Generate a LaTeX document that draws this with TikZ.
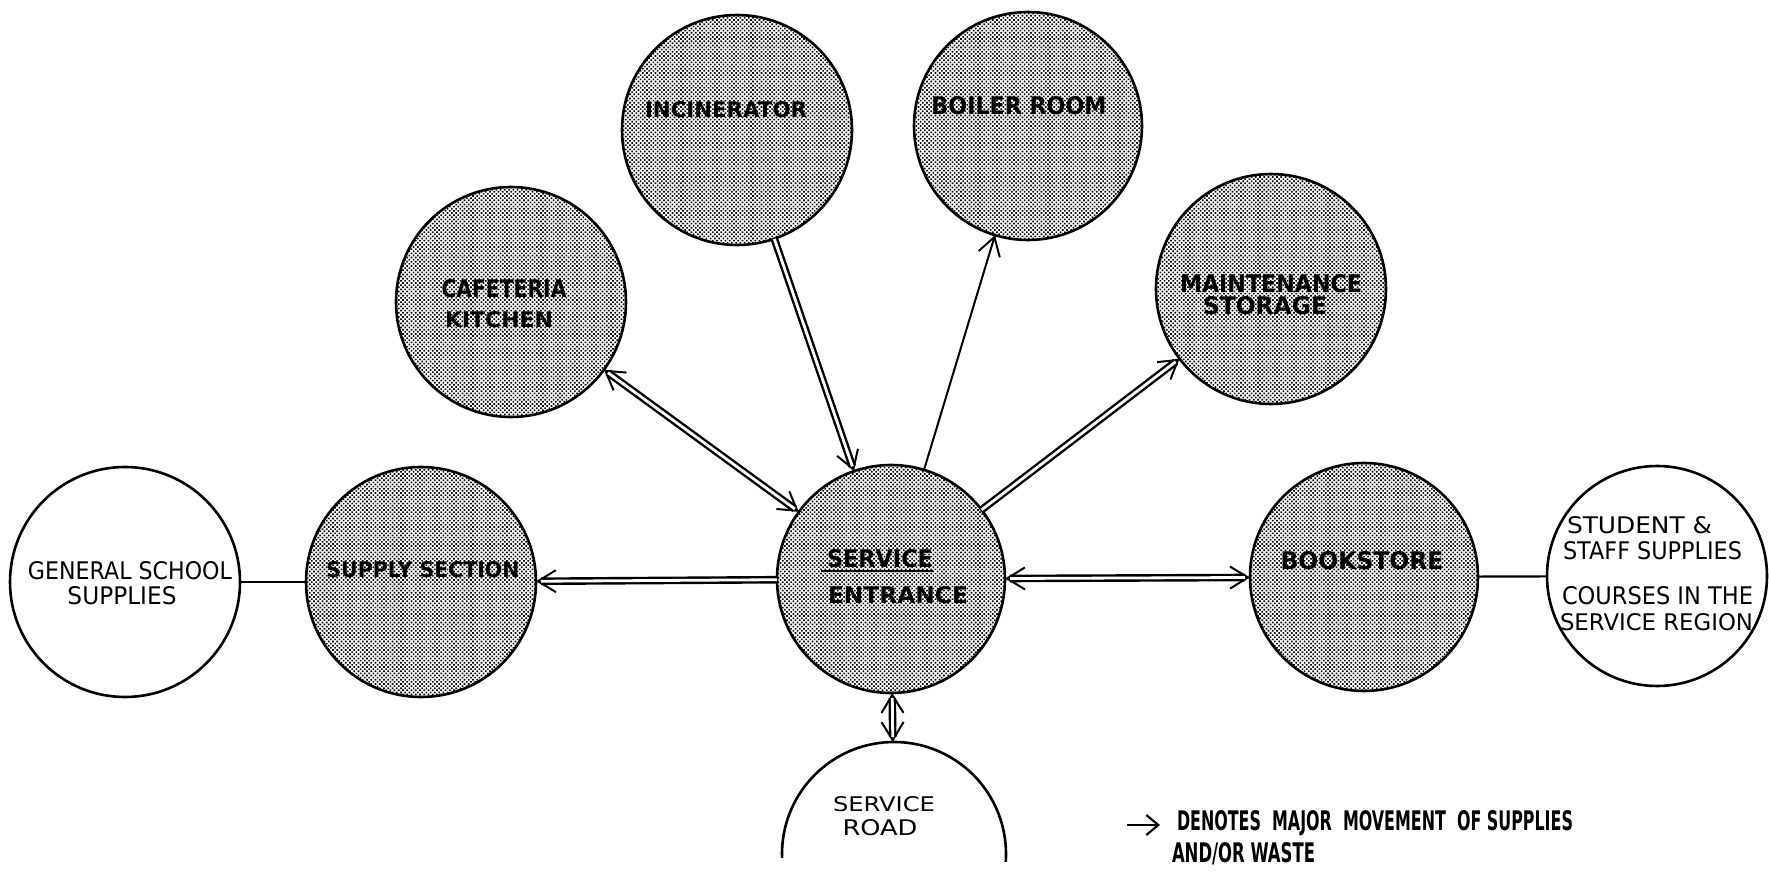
\documentclass[tikz,border=0pt]{standalone}
\usepackage{fontspec}
\usepackage{graphicx}
\setmainfont{DejaVu Sans}
\usetikzlibrary{arrows.meta,patterns.meta}

% lettering box: width, cap height, text
\newcommand\lab[3]{\resizebox{#1}{#2}{#3}}

\begin{document}
\begin{tikzpicture}[x=0.5pt,y=-0.5pt,
  room/.style={circle, draw, line width=1.3pt, inner sep=0pt, outer sep=0pt, minimum size=#1},
  screen/.style={pattern={Dots[distance=1.5pt, radius=0.58pt, angle=45]}},
  lbl/.style={inner sep=0pt, outer sep=0pt},
  dark/.style={lbl, font=\bfseries},
  barb/.tip={Straight Barb[length=9pt, width=11pt, line width=1pt]},
  tipline/.style={line width=1pt},
  rails/.style={double=white, double distance=1.4pt, line width=1.2pt},
  link/.style={line width=1.1pt}
]
\path[fill=white] (0,0) rectangle (1769,877);
\useasboundingbox (0,0) rectangle (1769,877);

% rooms
\node[room=115pt] (gen) at (125,582) {};
\node[room=115pt, screen] (sup) at (421,582) {};
\node[room=115pt, screen] (caf) at (511,302) {};
\node[room=115pt, screen] (inc) at (737,130) {};
\node[room=114pt, screen] (boil) at (1028,126) {};
\node[room=115pt, screen] (maint) at (1271,289) {};
\node[room=114pt, screen] (se) at (891,579) {};
\node[room=114pt, screen] (book) at (1364,577) {};
\node[room=110pt] (stud) at (1657,576) {};
\node[circle, inner sep=0pt, outer sep=0pt, minimum size=112pt] (road) at (894,854) {};
\draw[line width=1.3pt] (road.182) arc[start angle=182, end angle=-4, radius=56pt];

% labels
\node[lbl] (gen1) at (130,571) {\lab{102pt}{9pt}{GENERAL SCHOOL}};
\node[lbl] (gen2) at (122,596) {\lab{54.5pt}{9pt}{SUPPLIES}};
\node[dark] (sup1) at (423,570) {\lab{96.5pt}{8pt}{SUPPLY SECTION}};
\node[dark] (caf1) at (504,289) {\lab{62.5pt}{9pt}{CAFETERIA}};
\node[dark] (caf2) at (499,320) {\lab{54pt}{8pt}{KITCHEN}};
\node[dark] (inc1) at (726,110) {\lab{81pt}{8pt}{INCINERATOR}};
\node[dark] (boil1) at (1019,106) {\lab{87.5pt}{9pt}{BOILER ROOM}};
\node[dark] (maint1) at (1271,284) {\lab{91pt}{9pt}{MAINTENANCE}};
\node[dark] (maint2) at (1265,306) {\lab{62pt}{9pt}{STORAGE}};
\node[dark] (se1) at (880,559) {\lab{53pt}{9pt}{SERVICE}};
\node[dark] (se2) at (898,595) {\lab{70pt}{8.5pt}{ENTRANCE}};
\draw[line width=1pt] ([xshift=-3pt,yshift=-1.5pt]se1.south west) -- ([yshift=-1.5pt]se1.south east);
\node[dark] (book1) at (1362,561) {\lab{81.5pt}{9pt}{BOOKSTORE}};
\node[lbl, anchor=west] (stud1) at (1567,525) {\lab{72.5pt}{8.5pt}{STUDENT \&}};
\node[lbl, anchor=west] (stud2) at (1563,551) {\lab{89.5pt}{9pt}{STAFF SUPPLIES}};
\node[lbl, anchor=west] (stud3) at (1562,596) {\lab{95.5pt}{9pt}{COURSES IN THE}};
\node[lbl, anchor=west] (stud4) at (1560,622) {\lab{96.5pt}{8.5pt}{SERVICE REGION}};
\node[lbl] (road1) at (884,804) {\lab{51pt}{7.5pt}{SERVICE}};
\node[lbl] (road2) at (880,828) {\lab{37.5pt}{8pt}{ROAD}};

% plain ties
\draw[link] (gen) -- (sup);
\draw[link] (book) -- (stud);

% flows of supplies and waste
\draw[tipline, barb-barb] (caf) -- (se);
\draw[rails, shorten <=2.5pt, shorten >=2.5pt] (caf) -- (se);

\draw[tipline, -barb] (inc) -- (se);
\draw[rails, shorten >=2.5pt] (inc) -- (se);

\draw[tipline, -barb] (se) -- (boil);

\draw[tipline, -barb] (se) -- (maint);
\draw[rails, shorten >=2.5pt] (se) -- (maint);

\draw[tipline, -barb] (se) -- (sup);
\draw[rails, shorten >=2.5pt] (se) -- (sup);

\draw[tipline, barb-barb] (se) -- (book);
\draw[rails, shorten <=2.5pt, shorten >=2.5pt] (se) -- (book);

\draw[tipline, barb-barb] (se) -- (road);
\draw[rails, shorten <=2.5pt, shorten >=2.5pt] (se) -- (road);

% key
\coordinate (keyA) at (1127,825);
\coordinate (keyB) at (1160,825);
\draw[line width=1.1pt, -{Straight Barb[length=6pt, width=10pt]}] (keyA) -- (keyB);
\node[dark, anchor=west] (key1) at (1177,823) {\lab{198pt}{10pt}{DENOTES\ \ MAJOR\ \ MOVEMENT\ \ OF\ SUPPLIES}};
\node[dark, anchor=west] (key2) at (1172,854) {\lab{71.5pt}{10pt}{AND/OR\ WASTE}};
\end{tikzpicture}
\end{document}
